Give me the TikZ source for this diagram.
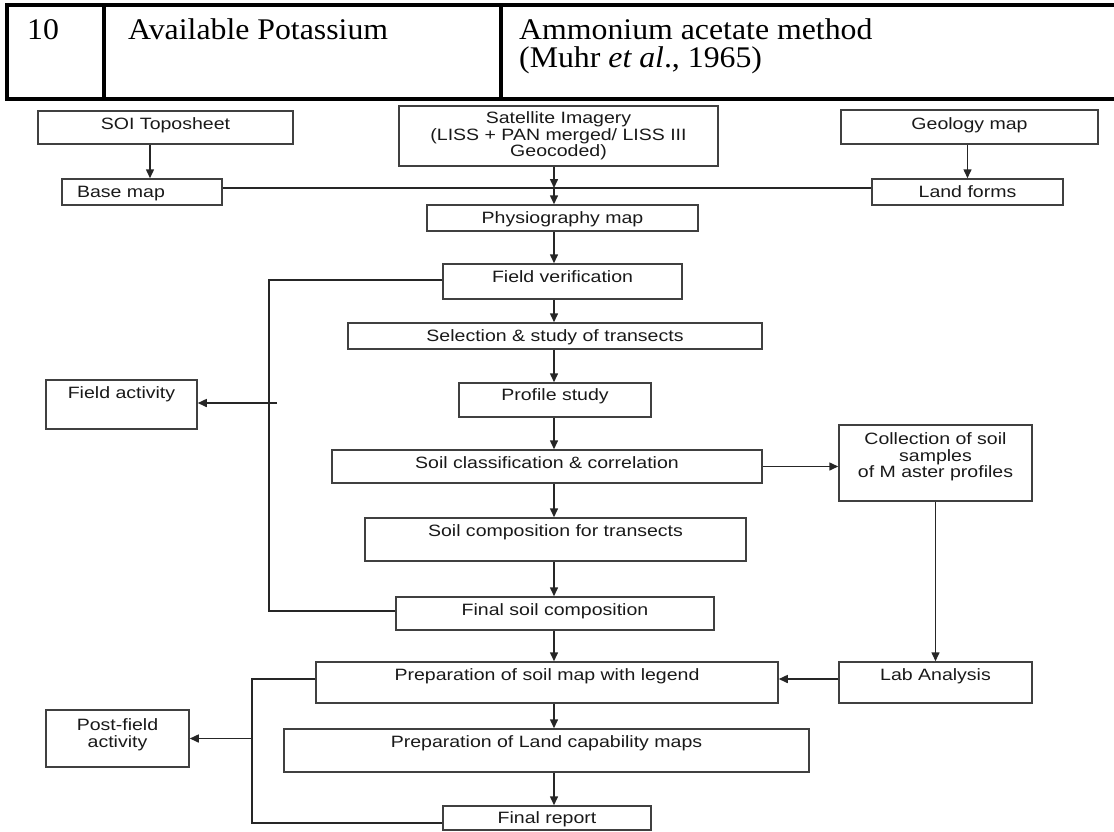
\documentclass[tikz,border=0pt]{standalone}
\usepackage{fontspec}
\setmainfont{Liberation Serif}[FakeStretch=1.06]
\newfontfamily\flowfont{Liberation Sans}[FakeStretch=1.19]
\usetikzlibrary{arrows.meta}

\begin{document}
\begin{tikzpicture}[x=1pt,y=-1pt,
    box/.style={draw=black!75,line width=1.5pt,rectangle,inner sep=0pt,
        font=\flowfont\fontsize{16.4pt}{16.5pt}\selectfont,text=black!90,align=center},
    lift/.style={text height=11.6pt,text depth=#1},
    arr/.style={draw=black!85,line width=1.5pt,-{Triangle[length=9pt,width=8pt]}},
    link/.style={draw=black!85,line width=1.5pt},
    tabline/.style={line width=3.5pt},
    cell/.style={inner sep=0pt,font=\fontsize{30pt}{28pt}\selectfont}]

    \useasboundingbox (0,0) rectangle (1114,831);

    % table row
    \draw[tabline] (1114,5) -- (7,5) -- (7,99) -- (1114,99);
    \draw[tabline] (104,5) -- (104,99) (501,5) -- (501,99);
    \node[cell,anchor=base west] (num) at (27,39) {10};
    \node[cell,anchor=base west] (param) at (128,39) {Available Potassium};
    \node[cell,anchor=north west,align=left] (method) at (519,18.5)
        {Ammonium acetate method\\(Muhr \textit{et al}., 1965)};

    % top sources
    \node[box,lift=7pt,minimum width=255pt,minimum height=33pt] (soi) at (165.5,127.5) {SOI Toposheet};
    \node[box,minimum width=319pt,minimum height=60pt] (sat) at (558.5,136)
        {Satellite Imagery\\(LISS + PAN merged/ LISS III\\Geocoded)};
    \node[box,lift=6pt,minimum width=257pt,minimum height=34pt] (geo) at (969.5,127) {Geology map};
    \node[box,lift=0pt,minimum height=26pt,text width=130pt,inner xsep=15pt,align=left] (base) at (142,192) {Base map};
    \node[box,lift=0pt,minimum width=191pt,minimum height=26pt] (land) at (967.5,192) {Land forms};
    \node[box,lift=0pt,minimum width=271pt,minimum height=26pt] (phys) at (562.5,218) {Physiography map};

    % field work
    \node[box,lift=9pt,minimum width=239pt,minimum height=35pt] (fver) at (562.5,281.5) {Field verification};
    \node[box,lift=0pt,minimum width=414pt,minimum height=26pt] (sel) at (555,336) {Selection \& study of transects};
    \node[box,lift=10pt,minimum width=192pt,minimum height=34pt] (prof) at (555,400) {Profile study};
    \node[box,lift=23pt,minimum width=151pt,minimum height=49pt] (fact) at (121.5,404.5) {Field activity};
    \node[box,lift=7pt,minimum width=430pt,minimum height=33pt] (scls) at (547,466.5) {Soil classification \& correlation};
    \node[box,text depth=15.4pt,minimum width=193pt,minimum height=76pt] (coll) at (935.5,463)
        {Collection of soil\\samples\\of M aster profiles};
    \node[box,lift=17pt,minimum width=381pt,minimum height=43pt] (scomp) at (555.5,539.5) {Soil composition for transects};
    \node[box,lift=7pt,minimum width=318pt,minimum height=33pt] (fsoil) at (555,613.5) {Final soil composition};

    % post-field work
    \node[box,lift=15pt,minimum width=193pt,minimum height=41pt] (lab) at (935.5,682.5) {Lab Analysis};
    \node[box,lift=15pt,minimum width=462pt,minimum height=41pt] (prep) at (547,682.5) {Preparation of soil map with legend};
    \node[box,lift=17pt,minimum width=525pt,minimum height=43pt] (lcap) at (546.5,750.5) {Preparation of Land capability maps};
    \node[box,lift=0pt,minimum width=208pt,minimum height=24pt] (frep) at (547,818) {Final report};
    \node[box,text depth=11.4pt,minimum width=143pt,minimum height=57pt] (post) at (117.5,738.5) {Post-field\\activity};

    % connectors
    \coordinate (spine) at (554,188);
    \coordinate (soidrop) at (150,188);
    \draw[arr] (soi.south -| soidrop) -- (base.north -| soidrop);
    \draw[arr] (geo.south -| land.north) -- (land.north);
    \draw[link] (base.east |- spine) -- (land.west |- spine);
    \draw[arr] (sat.south -| spine) -- (spine);
    \draw[arr] (spine) -- (phys.north -| spine);
    \foreach \a/\b in {phys/fver,fver/sel,sel/prof,prof/scls,scls/scomp,scomp/fsoil,fsoil/prep,prep/lcap,lcap/frep}
        \draw[arr] (\a.south -| spine) -- (\b.north -| spine);

    % field loop
    \coordinate (fieldloop) at (269,280);
    \coordinate (fieldend) at (269,611);
    \coordinate (fieldtap) at (277,403);
    \draw[link] (fver.west |- fieldloop) -- (fieldloop) -- (fieldend) -- (fsoil.west |- fieldend);
    \draw[arr] (fieldtap) -- (fact.east |- fieldtap);

    % samples
    \draw[arr] (scls.east) -- (scls.east -| coll.west);
    \draw[arr] (coll.south) -- (lab.north);

    % post-field loop
    \coordinate (postloop) at (252,679);
    \coordinate (postend) at (252,823);
    \draw[arr] (lab.west |- postloop) -- (prep.east |- postloop);
    \draw[link] (prep.west |- postloop) -- (postloop) -- (postend) -- (frep.west |- postend);
    \draw[arr] (post.east -| postloop) -- (post.east);
\end{tikzpicture}
\end{document}
